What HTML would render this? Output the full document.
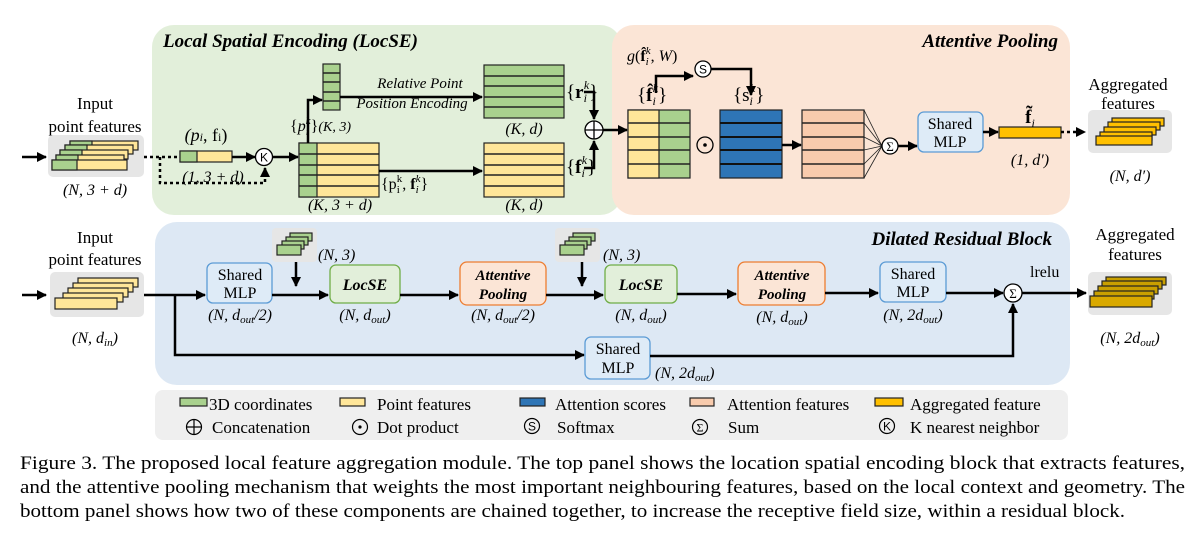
<!DOCTYPE html>
<html><head><meta charset="utf-8"><style>
html,body{margin:0;padding:0;background:#fff;}
svg{display:block;font-family:"Liberation Serif",serif;}
.t{font-size:16px;fill:#000;}
.i{font-style:italic;}
.ti{font-size:19px;font-weight:bold;font-style:italic;}
.ln{stroke:#000;stroke-width:2.5;fill:none;}
.g{fill:#a9d18e;stroke:#222;stroke-width:1.2;}
.y{fill:#ffe699;stroke:#222;stroke-width:1.2;}
.b{fill:#2e75b6;stroke:#222;stroke-width:1.2;}
.p{fill:#f8cbad;stroke:#222;stroke-width:1.2;}
.o{fill:#ffc000;stroke:#222;stroke-width:1.2;}
.rl{stroke:#222;stroke-width:1.5;}
</style></head><body>
<svg width="1203" height="533" viewBox="0 0 1203 533" xmlns="http://www.w3.org/2000/svg">
<defs>
<marker id="a" viewBox="0 0 10 10" refX="9" refY="5" markerWidth="4" markerHeight="4" orient="auto"><path d="M0,0L10,5L0,10z" fill="#000"/></marker>
</defs>
<rect x="152" y="25" width="470" height="190" rx="22" fill="#e2efda"/>
<rect x="612" y="25" width="458" height="190" rx="22" fill="#fbe5d6"/>
<rect x="155" y="222" width="915" height="163" rx="22" fill="#dde8f4"/>
<rect x="155" y="390" width="913" height="50" rx="8" fill="#efefef"/>
<text class="ti" x="163" y="47">Local Spatial Encoding (LocSE)</text>
<text class="ti" x="1058" y="47" text-anchor="end">Attentive Pooling</text>
<text class="ti" x="1052" y="245" text-anchor="end">Dilated Residual Block</text>

<text class="t" x="95" y="109" text-anchor="middle" style="font-size:17px">Input</text>
<text class="t" x="95" y="132" text-anchor="middle" style="font-size:17px">point features</text>
<rect x="48" y="135" width="96" height="42" rx="5" fill="#e6e6e6"/>
<g>
<rect x="70" y="141" width="68" height="9" class="y"/><rect x="70" y="141" width="22" height="9" class="g"/>
<rect x="65" y="145" width="68" height="9" class="y"/><rect x="65" y="145" width="22" height="9" class="g"/>
<rect x="60" y="150" width="68" height="9" class="y"/><rect x="60" y="150" width="22" height="9" class="g"/>
<rect x="56" y="155" width="68" height="9" class="y"/><rect x="56" y="155" width="22" height="9" class="g"/>
<rect x="52" y="160" width="75" height="10" class="y"/><rect x="52" y="160" width="25" height="10" class="g"/>
</g>
<line x1="22" y1="157" x2="46" y2="157" class="ln" marker-end="url(#a)"/>
<text class="t i" x="95" y="195" text-anchor="middle">(N, 3 + d)</text>
<path d="M144,157H180" class="ln" stroke-dasharray="3,3"/>
<path d="M160,157V183H265V168" class="ln" stroke-dasharray="3,3" marker-end="url(#a)"/>
<rect x="180" y="151" width="52" height="11" class="y"/><rect x="180" y="151" width="17" height="11" class="g"/>
<text class="t" x="206" y="141" text-anchor="middle" style="font-size:18px"><tspan class="i">(p</tspan><tspan class="i" font-size="12">i</tspan>, f<tspan font-size="12">i</tspan>)</text>
<text class="t i" x="213" y="182" text-anchor="middle">(1, 3 + d)</text>
<line x1="232" y1="157" x2="255" y2="157" class="ln" marker-end="url(#a)"/>
<circle cx="264" cy="157" r="8.5" fill="#fff" stroke="#000" stroke-width="1.3"/>
<text x="264" y="161.5" font-size="12" text-anchor="middle" font-family="Liberation Sans">K</text>
<line x1="273" y1="157" x2="298" y2="157" class="ln" marker-end="url(#a)"/>
<rect x="299" y="143" width="80" height="54" class="y"/><rect x="299" y="143" width="18" height="54" class="g"/>
<path d="M299,154H379M299,165H379M299,175H379M299,186H379" class="rl"/>
<text class="t i" x="340" y="210" text-anchor="middle">(K, 3 + d)</text>
<text class="t" x="381" y="189">{p<tspan font-size="11" dy="4">i</tspan><tspan font-size="11" dy="-11" dx="-3">k</tspan><tspan dy="7">, </tspan><tspan font-weight="bold">f</tspan><tspan font-size="11" dy="4" class="i">i</tspan><tspan font-size="11" dy="-11" dx="-3" class="i">k</tspan><tspan dy="7">}</tspan></text>
<rect x="323" y="64" width="17" height="46" class="g"/>
<path d="M323,73H340M323,82H340M323,92H340M323,101H340" class="rl"/>
<path d="M308,143V100H322" class="ln" marker-end="url(#a)"/>
<text class="t" x="290" y="131">{<tspan class="i">p</tspan><tspan font-size="11" dy="4" class="i">i</tspan><tspan font-size="11" dy="-11" dx="-3" class="i">k</tspan><tspan dy="7">}</tspan><tspan class="i" font-size="14">(K, 3)</tspan></text>
<line x1="340" y1="97" x2="482" y2="97" class="ln" marker-end="url(#a)"/>
<text class="t i" x="420" y="88" text-anchor="middle" style="font-size:15px">Relative Point</text>
<text class="t i" x="412" y="108" text-anchor="middle" style="font-size:15px">Position Encoding</text>
<rect x="484" y="65" width="80" height="53" class="g"/>
<path d="M484,76H564M484,86H564M484,97H564M484,107H564" class="rl"/>
<text class="t" x="566" y="98" style="font-size:19px">{<tspan font-weight="bold">r</tspan><tspan font-size="12" dy="4" class="i">i</tspan><tspan font-size="12" dy="-13" dx="-3" class="i">k</tspan><tspan dy="9">}</tspan></text>
<text class="t i" x="524" y="134" text-anchor="middle">(K, d)</text>
<line x1="379" y1="171" x2="482" y2="171" class="ln" marker-end="url(#a)"/>
<rect x="484" y="143" width="80" height="54" class="y"/>
<path d="M484,154H564M484,165H564M484,175H564M484,186H564" class="rl"/>
<text class="t" x="566" y="173" style="font-size:19px">{<tspan font-weight="bold">f</tspan><tspan font-size="12" dy="4" class="i">i</tspan><tspan font-size="12" dy="-13" dx="-3" class="i">k</tspan><tspan dy="9">}</tspan></text>
<text class="t i" x="524" y="210" text-anchor="middle">(K, d)</text>
<path d="M584,92H594V119" class="ln" marker-end="url(#a)"/>
<path d="M584,168H594V141" class="ln" marker-end="url(#a)"/>
<circle cx="594" cy="130" r="9" fill="#fff" stroke="#000" stroke-width="1.3"/>
<path d="M585,130H603M594,121V139" stroke="#000" stroke-width="1.3"/>
<line x1="603" y1="130" x2="627" y2="130" class="ln" marker-end="url(#a)"/>
<text class="t" x="627" y="61"><tspan class="i">g</tspan>(<tspan font-weight="bold">f̂</tspan><tspan font-size="11" dy="4" class="i">i</tspan><tspan font-size="11" dy="-11" dx="-3" class="i">k</tspan><tspan dy="7">, </tspan><tspan class="i">W</tspan>)</text>
<path d="M656,93V76H693" class="ln" marker-end="url(#a)"/>
<circle cx="703" cy="69" r="8" fill="#fff" stroke="#000" stroke-width="1.3"/>
<text x="703" y="73.5" font-size="12" text-anchor="middle" font-family="Liberation Sans">S</text>
<path d="M711,69H751V95" class="ln" marker-end="url(#a)"/>
<text class="t" x="637" y="101" style="font-size:19px">{<tspan font-weight="bold">f̂</tspan><tspan font-size="12" dy="4" class="i">i</tspan><tspan font-size="12" dy="-13" dx="-3" class="i">k</tspan><tspan dy="9">}</tspan></text>
<text class="t" x="733" y="101" style="font-size:19px">{s<tspan font-size="12" dy="4" class="i">i</tspan><tspan font-size="12" dy="-13" dx="-3" class="i">k</tspan><tspan dy="9">}</tspan></text>
<rect x="628" y="110" width="62" height="68" class="g"/><rect x="628" y="110" width="31" height="68" class="y"/>
<path d="M628,123H690M628,137H690M628,150H690M628,164H690" class="rl"/>
<circle cx="705" cy="145" r="8" fill="none" stroke="#000" stroke-width="1.3"/><circle cx="705" cy="145" r="1.8" fill="#000"/>
<rect x="720" y="110" width="62" height="68" class="b"/>
<path d="M720,123H782M720,137H782M720,150H782M720,164H782" stroke="#111" stroke-width="2"/>
<line x1="782" y1="145" x2="801" y2="145" class="ln" marker-end="url(#a)"/>
<rect x="802" y="110" width="62" height="68" class="p"/>
<path d="M802,123H864M802,137H864M802,150H864M802,164H864" class="rl"/>
<path d="M864,110L882,146M864,123L882,146M864,137L882,146M864,150L882,146M864,164L882,146M864,178L882,146" stroke="#222" stroke-width="0.8"/>
<circle cx="890" cy="146" r="8" fill="#fff" stroke="#000" stroke-width="1.3"/>
<text x="890" y="151" font-size="13" text-anchor="middle">Σ</text>
<line x1="898" y1="146" x2="917" y2="146" class="ln" marker-end="url(#a)"/>
<rect x="918" y="112" width="65" height="40" rx="6" fill="#deebf7" stroke="#5b9bd5" stroke-width="1.3"/>
<text class="t" x="950" y="129" text-anchor="middle">Shared</text>
<text class="t" x="950" y="147" text-anchor="middle">MLP</text>
<line x1="983" y1="132" x2="998" y2="132" class="ln" marker-end="url(#a)"/>
<rect x="999" y="127" width="62" height="11" class="o"/>
<text class="t" x="1030" y="123" text-anchor="middle" style="font-size:19px"><tspan font-weight="bold">f̃</tspan><tspan font-size="12" dy="4" class="i">i</tspan></text>
<text class="t i" x="1030" y="165" text-anchor="middle">(1, d′)</text>
<line x1="1061" y1="132" x2="1085" y2="132" class="ln" stroke-dasharray="3,3" marker-end="url(#a)"/>
<text class="t" x="1128" y="90" text-anchor="middle" style="font-size:17px">Aggregated</text>
<text class="t" x="1128" y="109" text-anchor="middle" style="font-size:17px">features</text>
<rect x="1088" y="110" width="84" height="43" rx="5" fill="#e6e6e6"/>
<rect x="1112" y="118" width="52" height="8" class="o"/>
<rect x="1108" y="122" width="52" height="8" class="o"/>
<rect x="1104" y="127" width="52" height="8" class="o"/>
<rect x="1100" y="132" width="52" height="8" class="o"/>
<rect x="1096" y="136" width="56" height="9" class="o"/>
<text class="t i" x="1130" y="181" text-anchor="middle">(N, d′)</text>

<text class="t" x="95" y="243" text-anchor="middle" style="font-size:17px">Input</text>
<text class="t" x="95" y="265" text-anchor="middle" style="font-size:17px">point features</text>
<rect x="50" y="272" width="94" height="45" rx="5" fill="#e6e6e6"/>
<rect x="78" y="278" width="60" height="9" class="y"/>
<rect x="73" y="283" width="60" height="9" class="y"/>
<rect x="68" y="288" width="60" height="9" class="y"/>
<rect x="63" y="293" width="60" height="9" class="y"/>
<rect x="55" y="298" width="62" height="11" class="y"/>
<line x1="22" y1="295" x2="46" y2="295" class="ln" marker-end="url(#a)"/>
<text class="t i" x="95" y="343" text-anchor="middle">(N, d<tspan font-size="11" dy="3">in</tspan><tspan dy="-3">)</tspan></text>
<line x1="144" y1="295" x2="205" y2="295" class="ln" marker-end="url(#a)"/>
<path d="M175,295V355H584" class="ln" marker-end="url(#a)"/>
<rect x="207" y="263" width="65" height="40" rx="6" fill="#deebf7" stroke="#5b9bd5" stroke-width="1.3"/>
<text class="t" x="240" y="280" text-anchor="middle">Shared</text>
<text class="t" x="240" y="298" text-anchor="middle">MLP</text>
<text class="t i" x="240" y="320" text-anchor="middle">(N, d<tspan font-size="11" dy="3">out</tspan><tspan dy="-3">/2)</tspan></text>
<line x1="272" y1="295" x2="328" y2="295" class="ln" marker-end="url(#a)"/>
<rect x="272" y="228" width="45" height="34" rx="4" fill="#e6e6e6"/>
<rect x="290" y="233" width="22" height="8" class="g"/><rect x="286" y="237" width="22" height="8" class="g"/><rect x="282" y="241" width="22" height="8" class="g"/><rect x="277" y="245" width="24" height="10" class="g"/>
<line x1="296" y1="262" x2="296" y2="286" class="ln" marker-end="url(#a)"/>
<text class="t i" x="318" y="260">(N, 3)</text>
<rect x="330" y="265" width="70" height="38" rx="6" fill="#e2efda" stroke="#70ad47" stroke-width="1.3"/>
<text class="t" x="365" y="290" text-anchor="middle" style="font-weight:bold;font-style:italic">LocSE</text>
<text class="t i" x="365" y="320" text-anchor="middle">(N, d<tspan font-size="11" dy="3">out</tspan><tspan dy="-3">)</tspan></text>
<line x1="400" y1="295" x2="458" y2="295" class="ln" marker-end="url(#a)"/>
<rect x="460" y="262" width="86" height="43" rx="7" fill="#fbe5d6" stroke="#ed7d31" stroke-width="1.3"/>
<text class="t" x="503" y="280" text-anchor="middle" style="font-weight:bold;font-style:italic;font-size:15px">Attentive</text>
<text class="t" x="503" y="299" text-anchor="middle" style="font-weight:bold;font-style:italic;font-size:15px">Pooling</text>
<text class="t i" x="503" y="320" text-anchor="middle">(N, d<tspan font-size="11" dy="3">out</tspan><tspan dy="-3">/2)</tspan></text>
<line x1="546" y1="295" x2="603" y2="295" class="ln" marker-end="url(#a)"/>
<rect x="555" y="228" width="45" height="34" rx="4" fill="#e6e6e6"/>
<rect x="573" y="233" width="22" height="8" class="g"/><rect x="569" y="237" width="22" height="8" class="g"/><rect x="565" y="241" width="22" height="8" class="g"/><rect x="560" y="245" width="24" height="10" class="g"/>
<line x1="582" y1="262" x2="582" y2="286" class="ln" marker-end="url(#a)"/>
<text class="t i" x="603" y="260">(N, 3)</text>
<rect x="605" y="265" width="72" height="38" rx="6" fill="#e2efda" stroke="#70ad47" stroke-width="1.3"/>
<text class="t" x="641" y="290" text-anchor="middle" style="font-weight:bold;font-style:italic">LocSE</text>
<text class="t i" x="641" y="320" text-anchor="middle">(N, d<tspan font-size="11" dy="3">out</tspan><tspan dy="-3">)</tspan></text>
<line x1="677" y1="294" x2="736" y2="294" class="ln" marker-end="url(#a)"/>
<rect x="738" y="262" width="87" height="43" rx="7" fill="#fbe5d6" stroke="#ed7d31" stroke-width="1.3"/>
<text class="t" x="782" y="280" text-anchor="middle" style="font-weight:bold;font-style:italic;font-size:15px">Attentive</text>
<text class="t" x="782" y="299" text-anchor="middle" style="font-weight:bold;font-style:italic;font-size:15px">Pooling</text>
<text class="t i" x="782" y="322" text-anchor="middle">(N, d<tspan font-size="11" dy="3">out</tspan><tspan dy="-3">)</tspan></text>
<line x1="825" y1="293" x2="878" y2="293" class="ln" marker-end="url(#a)"/>
<rect x="880" y="262" width="66" height="40" rx="6" fill="#deebf7" stroke="#5b9bd5" stroke-width="1.3"/>
<text class="t" x="913" y="279" text-anchor="middle">Shared</text>
<text class="t" x="913" y="297" text-anchor="middle">MLP</text>
<text class="t i" x="913" y="320" text-anchor="middle">(N, 2d<tspan font-size="11" dy="3">out</tspan><tspan dy="-3">)</tspan></text>
<line x1="946" y1="293" x2="1003" y2="293" class="ln" marker-end="url(#a)"/>
<circle cx="1013" cy="293" r="9" fill="#fff" stroke="#000" stroke-width="1.3"/>
<text x="1013" y="298" font-size="13" text-anchor="middle">Σ</text>
<text class="t" x="1030" y="277">lrelu</text>
<line x1="1022" y1="293" x2="1086" y2="293" class="ln" marker-end="url(#a)"/>
<rect x="585" y="337" width="65" height="42" rx="6" fill="#deebf7" stroke="#5b9bd5" stroke-width="1.3"/>
<text class="t" x="618" y="354" text-anchor="middle">Shared</text>
<text class="t" x="618" y="373" text-anchor="middle">MLP</text>
<path d="M650,356H1013V304" class="ln" marker-end="url(#a)"/>
<text class="t i" x="655" y="378">(N, 2d<tspan font-size="11" dy="3">out</tspan><tspan dy="-3">)</tspan></text>
<text class="t" x="1135" y="240" text-anchor="middle" style="font-size:17px">Aggregated</text>
<text class="t" x="1135" y="260" text-anchor="middle" style="font-size:17px">features</text>
<rect x="1088" y="272" width="84" height="43" rx="5" fill="#e6e6e6"/>
<g stroke="#222" stroke-width="1.2">
<rect x="1106" y="277" width="60" height="8" fill="#c9a000"/>
<rect x="1102" y="281" width="60" height="8" fill="#c9a000"/>
<rect x="1098" y="286" width="60" height="8" fill="#c9a000"/>
<rect x="1094" y="291" width="60" height="8" fill="#c9a000"/>
<rect x="1090" y="296" width="62" height="11" fill="#d9a900"/>
</g>
<text class="t i" x="1130" y="343" text-anchor="middle">(N, 2d<tspan font-size="11" dy="3">out</tspan><tspan dy="-3">)</tspan></text>

<g>
<rect x="180" y="398" width="27" height="8" class="g"/><text class="t" x="209" y="410" style="font-size:17px">3D coordinates</text>
<rect x="340" y="398" width="25" height="8" class="y"/><text class="t" x="377" y="410" style="font-size:17px">Point features</text>
<rect x="520" y="398" width="25" height="8" class="b"/><text class="t" x="555" y="410" style="font-size:17px">Attention scores</text>
<rect x="690" y="398" width="24" height="8" class="p"/><text class="t" x="727" y="410" style="font-size:17px">Attention features</text>
<rect x="875" y="398" width="28" height="8" class="o"/><text class="t" x="910" y="410" style="font-size:17px">Aggregated feature</text>
<circle cx="194" cy="427" r="7.5" fill="none" stroke="#000" stroke-width="1.2"/><path d="M186.5,427H201.5M194,419.5V434.5" stroke="#000" stroke-width="1.2"/>
<text class="t" x="212" y="433" style="font-size:17px">Concatenation</text>
<circle cx="360" cy="427" r="7.5" fill="none" stroke="#000" stroke-width="1.2"/><circle cx="360" cy="427" r="1.6"/>
<text class="t" x="377" y="433" style="font-size:17px">Dot product</text>
<circle cx="532" cy="426" r="7.5" fill="none" stroke="#000" stroke-width="1.2"/><text x="532" y="430.5" font-size="12" text-anchor="middle" font-family="Liberation Sans">S</text>
<text class="t" x="557" y="433" style="font-size:17px">Softmax</text>
<circle cx="700" cy="427" r="7.5" fill="none" stroke="#000" stroke-width="1.2"/><text x="700" y="431.5" font-size="12" text-anchor="middle">Σ</text>
<text class="t" x="728" y="433" style="font-size:17px">Sum</text>
<circle cx="887" cy="426" r="7.5" fill="none" stroke="#000" stroke-width="1.2"/><text x="887" y="430.5" font-size="12" text-anchor="middle" font-family="Liberation Sans">K</text>
<text class="t" x="910" y="433" style="font-size:17px">K nearest neighbor</text>
</g>

<text x="20" y="469" font-size="18.5" textLength="1165" lengthAdjust="spacingAndGlyphs">Figure 3. The proposed local feature aggregation module. The top panel shows the location spatial encoding block that extracts features,</text>
<text x="20" y="493" font-size="18.5" textLength="1165" lengthAdjust="spacingAndGlyphs">and the attentive pooling mechanism that weights the most important neighbouring features, based on the local context and geometry. The</text>
<text x="20" y="517" font-size="18.5" textLength="1105" lengthAdjust="spacingAndGlyphs">bottom panel shows how two of these components are chained together, to increase the receptive field size, within a residual block.</text>
</svg>
</body></html>
